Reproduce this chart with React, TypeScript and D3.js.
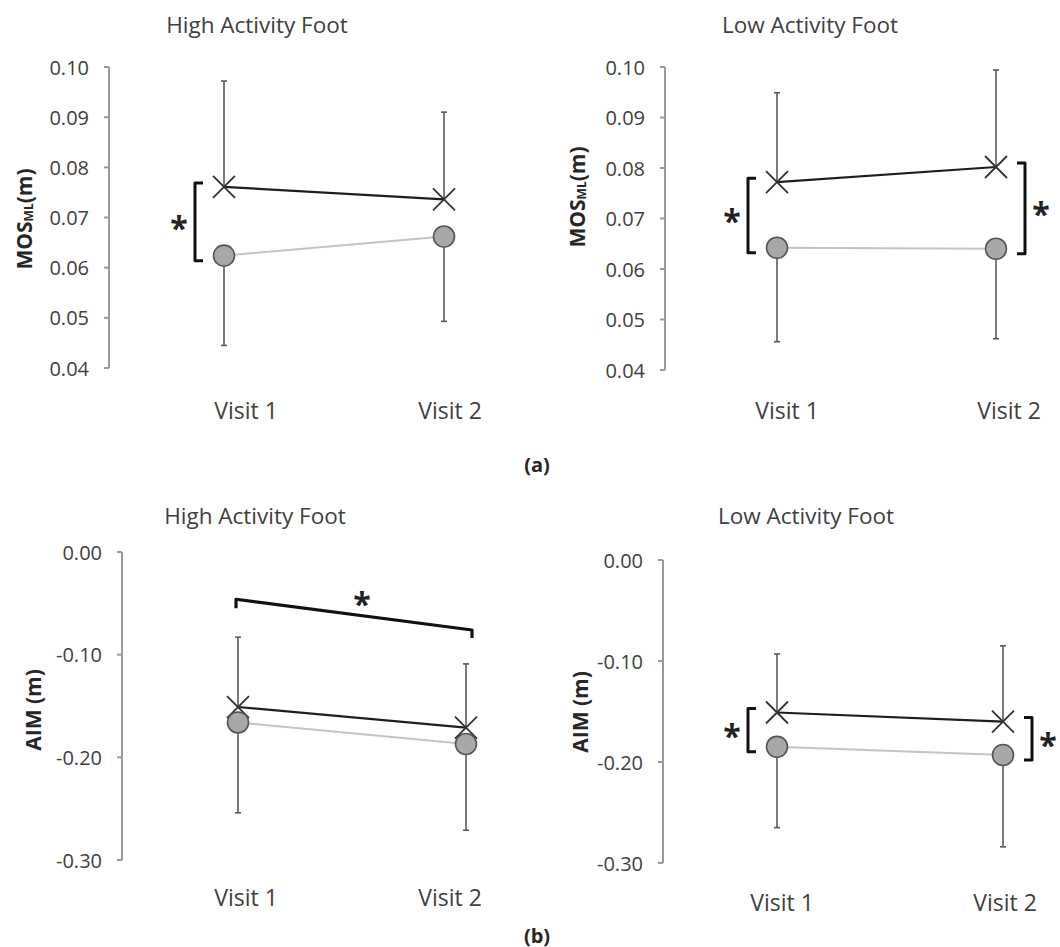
import React from "react";
import * as d3 from "d3";

// ---------- data ----------
const visits = ["Visit 1", "Visit 2"];

const mosTicks = [0.04, 0.05, 0.06, 0.07, 0.08, 0.09, 0.1];
const aimTicks = [0.0, -0.1, -0.2, -0.3];

// MOS_ML, High Activity Foot
const mosHighCross = [0.0761, 0.0736];
const mosHighCrossSD = [0.0211, 0.0174];
const mosHighCircle = [0.0624, 0.0662];
const mosHighCircleSD = [0.0179, 0.0169];

// MOS_ML, Low Activity Foot
const mosLowCross = [0.0772, 0.0802];
const mosLowCrossSD = [0.0177, 0.0192];
const mosLowCircle = [0.0642, 0.064];
const mosLowCircleSD = [0.0186, 0.0178];

// AIM, High Activity Foot
const aimHighCross = [-0.151, -0.171];
const aimHighCrossSD = [0.068, 0.062];
const aimHighCircle = [-0.166, -0.187];
const aimHighCircleSD = [0.088, 0.084];

// AIM, Low Activity Foot
const aimLowCross = [-0.151, -0.16];
const aimLowCrossSD = [0.058, 0.075];
const aimLowCircle = [-0.185, -0.193];
const aimLowCircleSD = [0.08, 0.091];

// significance markers: visits with a between-group bracket
const mosHighSigVisits = [0];
const mosLowSigVisits = [0, 1];
const aimHighSigVisits: number[] = [];
const aimLowSigVisits = [0, 1];
// across-visit bracket (AIM high activity) heights
const aimHighAcross = [-0.046, -0.076];

const FONT = "'Open Sans', 'DejaVu Sans', sans-serif";

type PanelProps = {
  title: string;
  yLabel: "MOS" | "AIM";
  ticks: number[];
  domain: [number, number];
  cross: number[];
  crossSD: number[];
  circle: number[];
  circleSD: number[];
  sigVisits: number[];
  across?: number[];
  axisX: number;
  yRange: [number, number];
  xRange: [number, number];
  labelRange: [number, number];
  labelY: number;
  titleX: number;
  titleY: number;
  yLabelX: number;
  yLabelY: number;
};

function Panel(p: PanelProps) {
  const y = d3.scaleLinear().domain(p.domain).range(p.yRange);
  const x = d3.scalePoint<string>().domain(visits).range(p.xRange);
  const xl = d3.scalePoint<string>().domain(visits).range(p.labelRange);
  const fmt = (t: number) => (t === 0 ? "0.00" : d3.format(".2f")(t).replace("\u2212", "-"));
  const line = d3
    .line<number>()
    .x((_, i) => x(visits[i]) as number)
    .y((d) => y(d));
  const errColor = "#5a5a5a";
  const cap = 3;
  const m = 11;
  return (
    <g>
      <text x={p.titleX} y={p.titleY} textAnchor="middle" dominantBaseline="central" fontFamily={FONT} fontSize={22.5} fill="#404040">
        {p.title}
      </text>
      {/* axis */}
      <line x1={p.axisX} x2={p.axisX} y1={y(p.domain[1])} y2={y(p.domain[0])} stroke="#9a9a9a" strokeWidth={2} />
      {p.ticks.map((t) => (
        <g key={t}>
          <line x1={p.axisX - 5} x2={p.axisX} y1={y(t)} y2={y(t)} stroke="#9a9a9a" strokeWidth={2} />
          <text x={p.axisX - 20} y={y(t)} textAnchor="end" dominantBaseline="central" fontFamily={FONT} fontSize={20} fill="#404040">
            {fmt(t)}
          </text>
        </g>
      ))}
      {/* y label */}
      <text
        transform={`translate(${p.yLabelX},${p.yLabelY}) rotate(-90)`}
        textAnchor="middle"
        dominantBaseline="central"
        fontFamily={FONT}
        fontSize={21}
        fontWeight="bold"
        fill="#262626"
      >
        {p.yLabel === "MOS" ? (
          <>
            MOS
            <tspan fontSize={12} dy={4}>ML</tspan>
            <tspan dy={-4}>(m)</tspan>
          </>
        ) : (
          "AIM (m)"
        )}
      </text>
      {/* x labels */}
      {visits.map((v) => (
        <text key={v} x={xl(v)} y={p.labelY} textAnchor="middle" dominantBaseline="central" fontFamily={FONT} fontSize={23} fill="#404040">
          {v}
        </text>
      ))}
      {/* error bars */}
      {visits.map((v, i) => {
        const cx = x(v) as number;
        const yc1 = y(p.cross[i]);
        const yc2 = y(p.cross[i] + p.crossSD[i]);
        const yo1 = y(p.circle[i]);
        const yo2 = y(p.circle[i] - p.circleSD[i]);
        return (
          <g key={v} stroke={errColor} strokeWidth={1.6}>
            <line x1={cx} x2={cx} y1={yc1} y2={yc2} />
            <line x1={cx - cap} x2={cx + cap} y1={yc2} y2={yc2} />
            <line x1={cx} x2={cx} y1={yo1} y2={yo2} />
            <line x1={cx - cap} x2={cx + cap} y1={yo2} y2={yo2} />
          </g>
        );
      })}
      {/* series lines */}
      <path d={line(p.circle) || ""} fill="none" stroke="#c4c4c4" strokeWidth={2} />
      <path d={line(p.cross) || ""} fill="none" stroke="#1e1e1e" strokeWidth={2.2} />
      {/* markers */}
      {visits.map((v, i) => {
        const cx = x(v) as number;
        const cy = y(p.cross[i]);
        return (
          <path
            key={v}
            d={`M${cx - m},${cy - m}L${cx + m},${cy + m}M${cx - m},${cy + m}L${cx + m},${cy - m}`}
            stroke="#333"
            strokeWidth={1.8}
            fill="none"
          />
        );
      })}
      {visits.map((v, i) => {
        const cx = x(v) as number;
        const cy = y(p.circle[i]);
        return <circle key={v} cx={cx} cy={cy} r={10.5} fill="#a8a8a8" stroke="#555" strokeWidth={1.6} />;
      })}
      {/* significance brackets */}
      {p.sigVisits.map((i) => {
        const cx = x(visits[i]) as number;
        const dir = i === 0 ? -1 : 1;
        const bx = cx + dir * 29;
        const top = y(p.cross[i]) - 4;
        const bot = y(p.circle[i]) + 5;
        const mid = (top + bot) / 2;
        return (
          <g key={i}>
            <path
              d={`M${bx - dir * 8},${top}H${bx}V${bot}H${bx - dir * 8}`}
              fill="none"
              stroke="#111"
              strokeWidth={3}
              strokeLinejoin="round"
            />
            <text x={cx + dir * 45} y={mid + 18} textAnchor="middle" fontFamily={FONT} fontSize={32} fontWeight="bold" fill="#222">
              *
            </text>
          </g>
        );
      })}
      {p.across && (() => {
        const x1 = (x(visits[0]) as number) - 2;
        const x2 = (x(visits[1]) as number) + 6;
        const y1 = y(p.across[0]);
        const y2 = y(p.across[1]);
        return (
          <g>
            <path d={`M${x1},${y1 + 9}V${y1}L${x2},${y2}V${y2 + 8}`} fill="none" stroke="#111" strokeWidth={3.2} strokeLinejoin="round" />
            <text x={(x1 + x2) / 2 + 8} y={Math.min(y1, y2) + 17} textAnchor="middle" fontFamily={FONT} fontSize={32} fontWeight="bold" fill="#222">
              *
            </text>
          </g>
        );
      })()}
    </g>
  );
}

export default function App() {
  return (
    <svg width={1060} height={947} style={{ position: "absolute", left: 0, top: 0, background: "#fff" }}>
      <rect width={1060} height={947} fill="#fff" />
      <Panel
        title="High Activity Foot"
        yLabel="MOS"
        ticks={mosTicks}
        domain={[0.04, 0.1]}
        cross={mosHighCross}
        crossSD={mosHighCrossSD}
        circle={mosHighCircle}
        circleSD={mosHighCircleSD}
        sigVisits={mosHighSigVisits}
        axisX={109}
        yRange={[368, 67]}
        xRange={[224, 444]}
        labelRange={[246, 450]}
        labelY={410}
        titleX={257}
        titleY={24}
        yLabelX={24}
        yLabelY={219}
      />
      <Panel
        title="Low Activity Foot"
        yLabel="MOS"
        ticks={mosTicks}
        domain={[0.04, 0.1]}
        cross={mosLowCross}
        crossSD={mosLowCrossSD}
        circle={mosLowCircle}
        circleSD={mosLowCircleSD}
        sigVisits={mosLowSigVisits}
        axisX={665}
        yRange={[370, 67]}
        xRange={[777, 996]}
        labelRange={[787, 1009]}
        labelY={410}
        titleX={810}
        titleY={24}
        yLabelX={577}
        yLabelY={197}
      />
      <text x={537} y={464} textAnchor="middle" dominantBaseline="central" fontFamily={FONT} fontSize={20} fontWeight="bold" fill="#262626">
        (a)
      </text>
      <Panel
        title="High Activity Foot"
        yLabel="AIM"
        ticks={aimTicks}
        domain={[-0.3, 0]}
        cross={aimHighCross}
        crossSD={aimHighCrossSD}
        circle={aimHighCircle}
        circleSD={aimHighCircleSD}
        sigVisits={aimHighSigVisits}
        across={aimHighAcross}
        axisX={122}
        yRange={[860, 552]}
        xRange={[238, 466]}
        labelRange={[246, 450]}
        labelY={897}
        titleX={255}
        titleY={515}
        yLabelX={33}
        yLabelY={710}
      />
      <Panel
        title="Low Activity Foot"
        yLabel="AIM"
        ticks={aimTicks}
        domain={[-0.3, 0]}
        cross={aimLowCross}
        crossSD={aimLowCrossSD}
        circle={aimLowCircle}
        circleSD={aimLowCircleSD}
        sigVisits={aimLowSigVisits}
        axisX={663}
        yRange={[863, 560]}
        xRange={[777, 1003]}
        labelRange={[782, 1005]}
        labelY={902}
        titleX={806}
        titleY={515}
        yLabelX={580}
        yLabelY={712}
      />
      <text x={537} y={935} textAnchor="middle" dominantBaseline="central" fontFamily={FONT} fontSize={20} fontWeight="bold" fill="#262626">
        (b)
      </text>
    </svg>
  );
}
